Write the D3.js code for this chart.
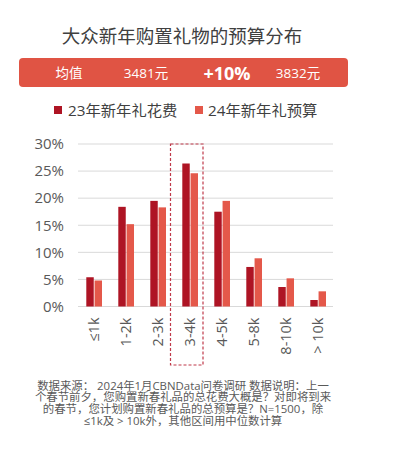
<!DOCTYPE html>
<html><head><meta charset="utf-8">
<script src="https://cdn.jsdelivr.net/npm/d3@7"></script>
<style>body{margin:0;background:#fff;} svg{display:block;}</style>
</head><body>
<script>
const categories = ["≤1k","1-2k","2-3k","3-4k","4-5k","5-8k","8-10k","> 10k"];
const seriesNames = ["23年新年礼花费","24年新年礼预算"];
const spend23 = [5.4,18.4,19.5,26.4,17.5,7.3,3.6,1.2];
const budget24 = [4.8,15.2,18.3,24.6,19.5,8.9,5.2,2.8];
const yTicks = [0,5,10,15,20,25,30];
const title = "大众新年购置礼物的预算分布";
const bannerTexts = ["均值","3481元","+10%","3832元"];
const highlight = "3-4k";
const notes = ["数据来源： 2024年1月CBNData问卷调研 数据说明：上一",
"个春节前夕，您购置新春礼品的总花费大概是？对即将到来",
"的春节，您计划购置新春礼品的总预算是？N=1500，除",
"≤1k及 > 10k外，其他区间用中位数计算"];

const colors = ["#AE1424","#E4584A"];
const W=395,H=449;
const font = "'Open Sans','Noto Sans CJK SC',sans-serif";
const cjk = "'Noto Sans CJK SC',sans-serif";
const svg = d3.select("body").append("svg").attr("width",W).attr("height",H);

svg.append("text").attr("x",182).attr("y",43).attr("text-anchor","middle")
  .attr("font-family",cjk).attr("font-size",18.5).attr("fill","#404040").text(title);

svg.append("rect").attr("x",19).attr("y",58).attr("width",329).attr("height",29).attr("rx",4).attr("fill","#E05444");
const bx=[69,146,227,298];
bannerTexts.forEach((t,i)=>{
  svg.append("text").attr("x",bx[i]).attr("y",i===2?79.5:77.5).attr("text-anchor","middle")
   .attr("font-family",font).attr("font-size",i===2?18:13.5).attr("font-weight",i===2?"bold":"normal")
   .attr("fill","#fff").text(t);
});

// legend
const lg=[{x:54,tx:68},{x:195,tx:208}];
seriesNames.forEach((s,i)=>{
  svg.append("rect").attr("x",lg[i].x).attr("y",106).attr("width",8).attr("height",8).attr("fill",colors[i]);
  svg.append("text").attr("x",lg[i].tx).attr("y",116).attr("font-family",font).attr("font-size",15.3)
    .attr("fill","#404040").text(s);
});

const x = d3.scaleBand().domain(categories).range([78,334]);
const x1 = d3.scaleBand().domain([0,1]).range([8.3,24]).paddingInner(0.1);
const y = d3.scaleLinear().domain([0,30]).range([306.5,144]);

const g = svg.append("g");
g.selectAll(".grid").data(yTicks).join("line")
  .attr("x1",78).attr("x2",333).attr("y1",d=>y(d)).attr("y2",d=>y(d))
  .attr("stroke","#d9d9d9").attr("stroke-width",1);

const yAxis = svg.append("g").attr("transform","translate(64,0)")
  .call(d3.axisLeft(y).tickValues(yTicks).tickFormat(d=>d+"%").tickSize(0).tickPadding(0));
yAxis.select(".domain").remove();
yAxis.selectAll("text").attr("font-family",font).attr("font-size",15).attr("fill","#595959");

const data=[spend23,budget24];
data.forEach((arr,si)=>{
  g.selectAll(".b"+si).data(categories).join("rect")
   .attr("x",(c)=>x(c)+x1(si)).attr("width",x1.bandwidth())
   .attr("y",(c,i)=>y(arr[i])).attr("height",(c,i)=>y(0)-y(arr[i]))
   .attr("fill",colors[si]);
});

const xAxis = svg.append("g").attr("transform","translate(0,306.5)")
  .call(d3.axisBottom(x).tickSize(0).tickPadding(0));
xAxis.select(".domain").remove();
xAxis.selectAll("text").attr("font-family",font).attr("font-size",14.5).attr("fill","#595959")
  .attr("text-anchor","end").attr("transform","rotate(-90)")
  .attr("x",-11).attr("y",0).attr("dy","0.35em");

svg.append("rect").attr("x",x(highlight)-3.5).attr("y",144).attr("width",x.bandwidth()+0.5).attr("height",221)
  .attr("fill","none").attr("stroke","#C0394A").attr("stroke-width",1.2).attr("stroke-dasharray","3,2");

notes.forEach((t,i)=>{
  svg.append("text").attr("x",183).attr("y",389.5+i*11.8).attr("text-anchor","middle")
   .attr("font-family",font).attr("font-size",11.4).attr("fill","#595959").text(t);
});
</script>
</body></html>
